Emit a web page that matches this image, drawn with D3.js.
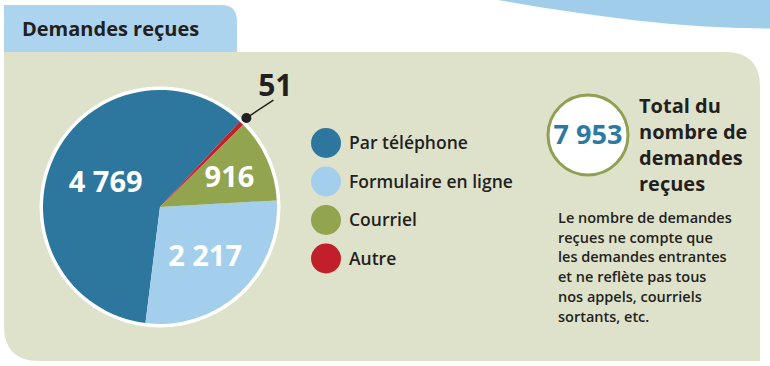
<!DOCTYPE html>
<html>
<head>
<meta charset="utf-8">
<script src="https://cdn.jsdelivr.net/npm/d3@7"></script>
<style>
  html, body { margin: 0; padding: 0; background: #fff; }
  svg { display: block; font-family: 'Open Sans', sans-serif; }
</style>
</head>
<body>
<div id="chart"></div>
<script>
const categories = ['Par téléphone', 'Formulaire en ligne', 'Courriel', 'Autre'];
const values = [4769, 2217, 916, 51];
const valueLabels = ['4 769', '2 217', '916', '51'];
const colors = ['#2d769d', '#a3cfec', '#93a44f', '#c11f29'];
const totalLabel = '7 953';
const titleLines = ['Total du', 'nombre de', 'demandes', 'reçues'];
const noteLines = [
  'Le nombre de demandes',
  'reçues ne compte que',
  'les demandes entrantes',
  'et ne reflète pas tous',
  'nos appels, courriels',
  'sortants, etc.'
];

const W = 770, H = 366;
const svg = d3.select('#chart').append('svg').attr('width', W).attr('height', H);

// decorative blue swoosh top right
svg.append('path')
  .attr('d', 'M498,0 C590,16 680,28.5 770,28.5 L770,0 Z')
  .attr('fill', '#a0cdea');

// title tab
svg.append('path')
  .attr('d', 'M4,5 H221 Q237,5 237,21 V53 H4 Z')
  .attr('fill', '#acd4ee');
svg.append('text')
  .attr('x', 22).attr('y', 36)
  .attr('font-size', '20px').attr('font-weight', 700)
  .attr('fill', '#231f20')
  .text('Demandes reçues');

// beige panel: rounded top-right and bottom-left
svg.append('path')
  .attr('d', 'M4,52 H725 Q760,52 760,87 V361 H39 Q4,361 4,326 Z')
  .attr('fill', '#dfe2cb');

// pie
const cx = 160, cy = 207, R = 117;
const start = 43 * Math.PI / 180;
const pie = d3.pie().sort(null).value(d => d)
  .startAngle(start).endAngle(start - 2 * Math.PI);
const arcs = pie(values);
const arc = d3.arc().innerRadius(0).outerRadius(R);

const gp = svg.append('g').attr('transform', `translate(${cx},${cy})`);
gp.append('circle').attr('r', R + 3.5).attr('fill', '#fff');
gp.selectAll('path.slice')
  .data(arcs).join('path')
  .attr('class', 'slice')
  .attr('d', arc)
  .attr('fill', (d, i) => colors[i]);

const labelR = [60, 66, 76];
gp.selectAll('text.val')
  .data(arcs.slice(0, 3)).join('text')
  .attr('class', 'val')
  .attr('transform', (d, i) => {
    const c = d3.arc().innerRadius(labelR[i]).outerRadius(labelR[i]).centroid(d);
    return `translate(${c[0]},${c[1]})`;
  })
  .attr('text-anchor', 'middle').attr('dy', '0.36em')
  .attr('font-size', '29px').attr('font-weight', 700)
  .attr('fill', '#fff')
  .text((d, i) => valueLabels[i]);

// callout for the small slice
const small = arcs[3];
const dotPos = d3.arc().innerRadius(R + 7).outerRadius(R + 7).centroid(small);
const lineEnd = [dotPos[0] + 27, dotPos[1] - 18];
gp.append('line')
  .attr('x1', dotPos[0]).attr('y1', dotPos[1])
  .attr('x2', lineEnd[0]).attr('y2', lineEnd[1])
  .attr('stroke', '#231f20').attr('stroke-width', 1.5);
gp.append('circle')
  .attr('cx', dotPos[0]).attr('cy', dotPos[1]).attr('r', 5)
  .attr('fill', '#231f20');
gp.append('text')
  .attr('x', lineEnd[0] + 2).attr('y', lineEnd[1] - 4)
  .attr('text-anchor', 'middle')
  .attr('font-size', '30px').attr('font-weight', 700)
  .attr('fill', '#231f20')
  .text(valueLabels[3]);

// legend
const leg = svg.append('g').attr('transform', 'translate(326,143)');
const li = leg.selectAll('g').data(categories).join('g')
  .attr('transform', (d, i) => `translate(0,${i * 38.5})`);
li.append('circle').attr('r', 15).attr('fill', (d, i) => colors[i]);
li.append('text')
  .attr('x', 23).attr('dy', '0.36em')
  .attr('font-size', '17.5px').attr('font-weight', 600)
  .attr('fill', '#231f20')
  .text(d => d);

// total badge
svg.append('circle')
  .attr('cx', 588).attr('cy', 135).attr('r', 40)
  .attr('fill', '#fff').attr('stroke', '#8fa052').attr('stroke-width', 3);
svg.append('text')
  .attr('x', 588).attr('y', 144)
  .attr('text-anchor', 'middle')
  .attr('font-size', '27px').attr('font-weight', 700)
  .attr('fill', '#2d79a4')
  .text(totalLabel);

svg.append('g').selectAll('text')
  .data(titleLines).join('text')
  .attr('x', 639).attr('y', (d, i) => 113 + i * 26)
  .attr('font-size', '20px').attr('font-weight', 700)
  .attr('fill', '#231f20')
  .text(d => d);

svg.append('g').selectAll('text')
  .data(noteLines).join('text')
  .attr('x', 558).attr('y', (d, i) => 223 + i * 19.7)
  .attr('font-size', '14.5px').attr('font-weight', 600)
  .attr('fill', '#231f20')
  .text(d => d);
</script>
</body>
</html>
